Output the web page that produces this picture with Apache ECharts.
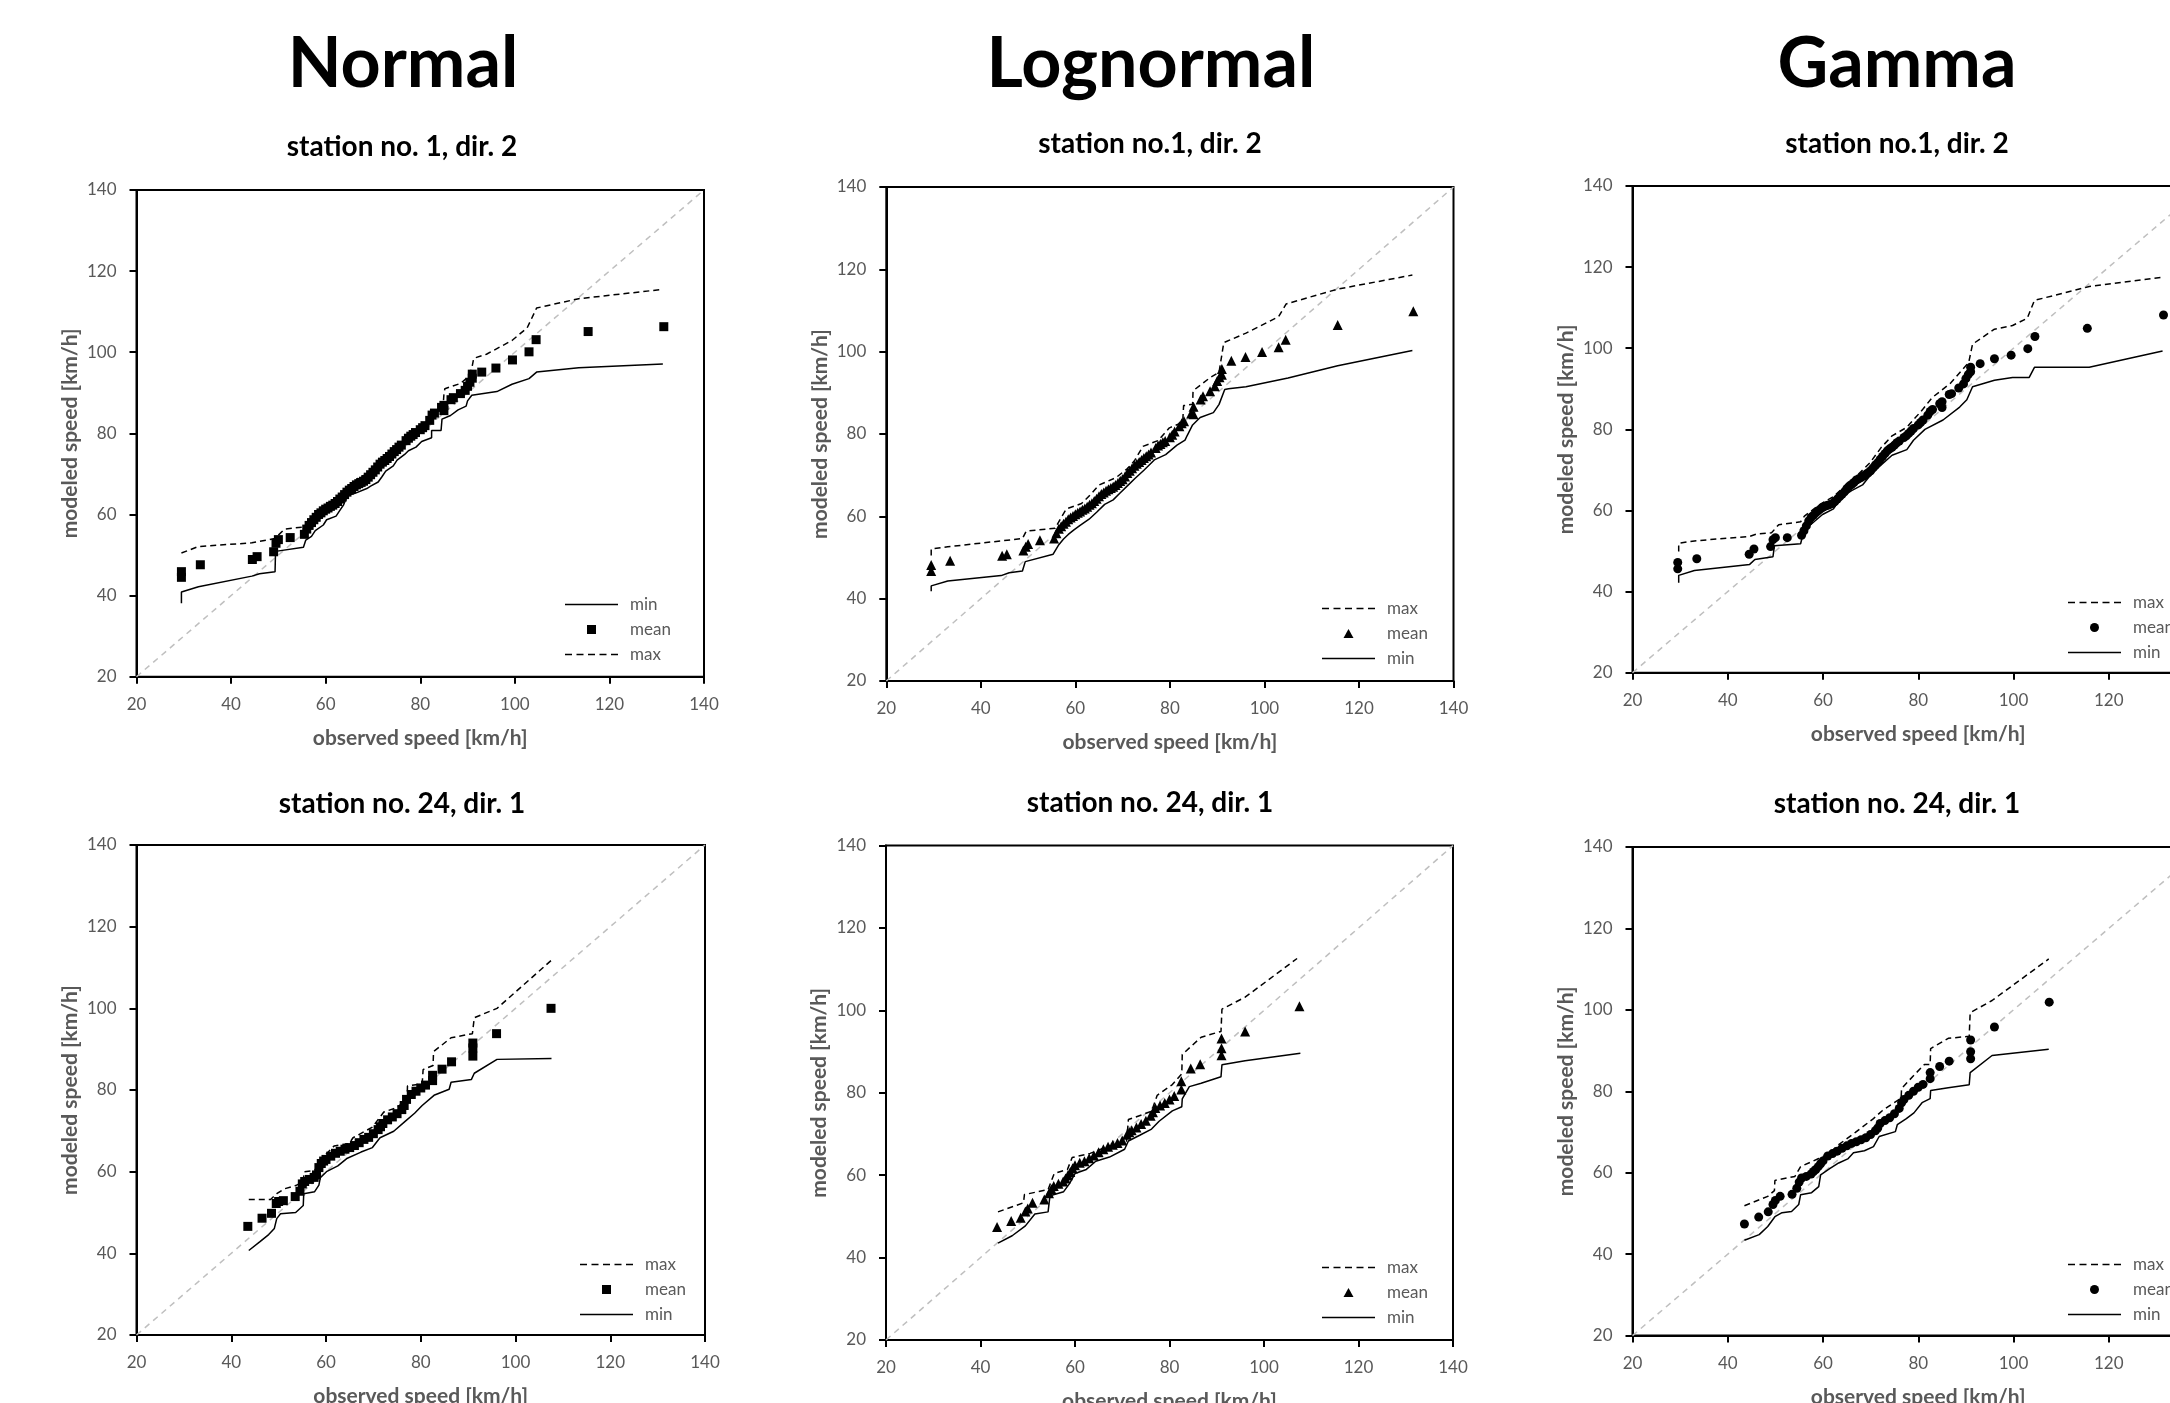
<!DOCTYPE html>
<html>
<head>
<meta charset="utf-8">
<script src="https://cdn.jsdelivr.net/npm/echarts@6/dist/echarts.min.js"></script>
<style>
html,body{margin:0;padding:0;background:#ffffff;}
#chart{width:2170px;height:1403px;}
</style>
</head>
<body>
<div id="chart"></div>
<script>
// ---------------- DATA ----------------
const distributionNames = ['Normal', 'Lognormal', 'Gamma'];
const panelTitles = ['station no. 1, dir. 2', 'station no.1, dir. 2', 'station no.1, dir. 2',
                     'station no. 24, dir. 1', 'station no. 24, dir. 1', 'station no. 24, dir. 1'];
const axisMin = 20, axisMax = 140, axisStep = 20;
const diagonalRange = [20, 140];

// observed speeds (x) per station
const obsStation1 = [29.5,29.5,33.5,44.5,45.5,49,49.5,50,52.5,55.5,
  56,56.5,57,57.5,58,58.5,59,59.5,60,60.5,
  61,61.5,62,62.5,63,63.5,64,64.5,65,65.5,
  66,66.5,67,67.5,68,68.5,69,69.5,70,70.5,
  71,71.5,72,72.5,73,73.5,74,74.5,75,75.5,
  76,77,77.5,78,78.5,79,80,80.5,81,82,
  82.5,83,84.5,85,85,86.5,87,88.5,89.5,90,
  90.5,91,91,93,96,99.5,103,104.5,115.5,131.5];
const obsStation24 = [43.5,46.5,48.5,49.5,50,51,53.5,54.5,55,55.5,
  56.5,57.5,58,58.5,59,59.5,60,61,62,63,
  64,65,66,67,68,69,70,71,71.5,72,
  73,74,75,76,76.5,77,78,79,80,81,
  82.5,82.5,84.5,86.5,91,91,91,96,107.5];

// modeled mean speeds
const normalMean1 = [45.9,44.5,47.6,48.9,49.6,50.8,52.9,53.8,54.3,55.1,
  56.4,57.3,58.0,58.7,59.3,60.0,60.4,60.9,61.3,61.6,
  62.0,62.3,62.7,63.2,63.8,64.3,64.9,65.5,66.0,66.4,
  66.9,67.3,67.6,67.9,68.2,68.6,69.2,69.8,70.4,71.0,
  71.7,72.4,72.9,73.3,73.8,74.3,74.9,75.5,76.0,76.6,
  77.1,78.2,78.8,79.3,79.7,80.2,80.9,81.4,81.9,83.2,
  84.5,85.0,86.4,86.9,85.6,88.3,88.8,89.8,90.6,91.6,
  92.6,93.6,94.6,95.1,96.1,98.1,100.1,103.1,105.1,106.3];
const lognormalMean1 = [48.2,46.7,49.2,50.4,50.8,51.7,52.6,53.3,54.2,54.6,
  55.9,57.0,57.6,58.2,58.7,59.3,59.7,60.1,60.5,60.9,
  61.2,61.6,61.9,62.3,62.8,63.2,63.7,64.3,64.9,65.4,
  65.8,66.2,66.6,66.9,67.2,67.6,68.1,68.6,69.0,69.7,
  70.5,71.1,71.7,72.3,72.8,73.2,73.7,74.2,74.6,75.0,
  75.5,76.6,77.2,77.6,78.0,78.3,79.2,79.8,80.6,81.9,
  82.6,83.1,85.0,86.6,84.8,88.4,89.2,90.4,91.6,92.9,
  93.8,94.4,95.8,97.8,98.7,99.9,101.1,102.9,106.5,109.8];
const gammaMean1 = [47.2,45.6,48.1,49.2,50.5,51.1,52.8,53.3,53.3,53.9,
  55.0,56.2,57.4,58.3,58.8,59.4,59.9,60.4,60.8,61.1,
  61.3,61.5,61.7,62.2,62.8,63.4,64.0,64.6,65.4,66.0,
  66.4,66.9,67.5,67.8,68.1,68.5,68.9,69.3,69.8,70.5,
  71.2,71.8,72.6,73.3,74.0,74.7,75.2,75.6,76.1,76.7,
  77.1,78.0,78.4,79.0,79.6,80.2,81.1,81.7,82.3,83.5,
  84.4,84.9,86.3,86.8,85.4,88.6,88.8,90.2,91.2,92.5,
  93.5,94.2,95.3,96.2,97.4,98.3,99.9,102.9,104.9,108.2];
const normalMean24 = [46.6,48.6,49.8,52.2,52.7,52.9,53.9,55.2,57.0,57.6,
  58.1,58.6,59.2,61.0,62.0,62.6,63.0,63.8,64.5,65.0,
  65.5,65.9,66.4,67.1,67.9,68.4,69.3,70.3,71.0,71.8,
  72.7,73.4,74.2,75.2,76.2,77.7,78.9,79.7,80.5,81.2,
  82.3,83.6,85.1,86.9,88.3,90.3,91.5,93.8,100.0];
const lognormalMean24 = [47.4,48.9,49.7,51.2,51.9,53.3,54.1,55.6,56.6,57.4,
  57.9,58.5,59.2,60.0,60.8,61.7,62.4,63.0,63.4,64.1,
  64.8,65.6,66.3,66.9,67.4,67.8,68.4,69.8,70.4,70.9,
  71.6,72.4,73.2,74.4,75.3,76.3,76.9,77.5,78.4,79.2,
  80.8,82.8,85.9,86.9,89.1,90.8,93.2,94.9,101.0];
const gammaMean24 = [47.4,49.1,50.4,52.2,53.2,54.2,54.7,56.2,57.7,58.7,
  59.1,59.7,60.3,60.8,61.5,62.2,62.9,64.1,64.7,65.3,
  66.0,66.6,67.2,67.6,68.1,68.6,69.4,70.3,71.0,72.1,
  72.8,73.5,74.5,75.8,77.2,78.0,79.0,80.0,81.0,81.7,
  83.1,84.6,86.1,87.4,88.0,89.7,92.6,95.8,101.9];

// min / max envelopes [observed, modeled]
const normalMin1 = [[29.5,38.1],[29.5,40.9],[33.1,42.2],[44.4,44.8],[46,45.4],[49.3,45.9],[49.4,50.9],[55.3,51.9],[55.8,53.7],[57,54.6],[57.8,56],[59.5,57.4],[60.2,58.7],[62.2,59.6],[63,61],[63.8,62.4],[64.6,64.7],[66.2,65.2],[68.7,66.4],[69.5,67],[71.1,68],[71.9,69.3],[72.7,70.7],[74.3,72],[75.1,73.4],[76.7,74.8],[77.5,75.7],[79.1,76.6],[80.3,78],[82.4,78.9],[82.4,80.7],[84.4,80.7],[84.6,83.5],[86.4,84.4],[88,85.8],[89.7,86.7],[90,88],[90.9,89.4],[96.2,90.3],[99.4,92.1],[103,93.5],[104.6,95.1],[113.5,96.2],[131.3,97.1]];
const normalMax1 = [[29.5,50.5],[33.1,52.1],[44.4,53],[49.3,54.1],[51.3,56.4],[55.3,56.9],[56.1,57.8],[56.5,59.2],[58.5,60],[60.2,61.9],[62.2,62.8],[63,64.5],[64.2,65.6],[66.2,66.5],[66.6,68.8],[69.1,70.2],[71.5,72.9],[72.3,74.2],[73.9,75.2],[75.5,77],[77.5,77.5],[77.8,80],[79.6,81.2],[80.6,82.6],[82.4,83.5],[83.6,85.5],[84.8,86.2],[85,89.5],[85.2,91],[88.5,92.3],[90.2,94],[90.9,96],[91.3,98.5],[94,99.5],[99.4,102.9],[102.6,106],[104.6,110.9],[113.5,113.2],[131.3,115.5]];
const lognormalMin1 = [[29.5,41.8],[29.5,43.1],[33,44.3],[44.3,45.6],[46,46.3],[48.8,46.7],[49.4,49],[55.3,50.8],[56.5,53.1],[57.5,54.5],[58.5,55.6],[59.7,56.7],[61,57.8],[62.9,59.3],[64.5,61],[66.2,62.9],[68,64],[69.4,65.6],[71,67.4],[72.6,69.2],[74.5,71.2],[76.7,73.7],[79.1,75],[81.5,77.3],[83.2,78.5],[83.6,79.5],[84.8,82.2],[86.4,84],[89.2,85.2],[90.4,87.2],[91.6,90.8],[92.4,91],[96.1,91.5],[105,93.6],[115.5,96.6],[131.3,100.3]];
const lognormalMax1 = [[29.5,50.5],[29.5,52.1],[33,52.6],[48.8,54.6],[49.6,56.4],[55.7,57.1],[56.9,59.5],[58.1,61.8],[61.3,63.1],[63.3,65.4],[65,67.6],[68.6,69.4],[71,71.6],[72.5,73.5],[74.3,77],[77.5,78.4],[79.9,81.5],[82.7,82.8],[82.9,86.9],[84.8,87.2],[84.9,90.5],[88.4,93.6],[90.4,95],[91.4,102.2],[96.1,104.5],[103,108.5],[104.6,111.6],[115.5,115.2],[131.3,118.6]];
const gammaMin1 = [[29.7,42.2],[29.7,44],[33,45.2],[44.6,46.7],[45.7,47.9],[49.5,48.6],[49.8,51.3],[55.3,51.8],[55.6,53.2],[57.2,56.3],[59.9,59],[62.2,60.4],[63.7,63.1],[66,64.9],[68.3,66.3],[69.9,68.6],[71.8,70.8],[74.5,73.6],[77.6,75],[79,77.3],[81.4,80],[85.2,82.3],[88.7,85.5],[90.2,87.3],[91.4,90.5],[96,92.1],[99.8,92.8],[103.3,92.8],[104.4,95.3],[115.9,95.3],[131.3,99.3]];
const gammaMax1 = [[29.7,49.9],[29.7,51.9],[33,52.5],[44.6,53.6],[46.1,54.2],[49.2,54.5],[50.7,56.5],[55.3,57.2],[56.1,58.6],[59.1,61.3],[62.2,63.4],[64.5,65.9],[66.8,68.2],[69.9,71.8],[72.2,75.5],[74.5,78.4],[77.6,80.5],[81,85],[82.9,87.8],[86.8,91.4],[89.1,94.5],[90.6,96.5],[91.4,101],[96,104.7],[99.8,105.6],[102.9,107.4],[104.4,111.8],[115.9,115.2],[131.3,117.5]];
const normalMin24 = [[43.7,40.7],[46,42.8],[47.9,44.6],[49.1,46.1],[49.6,48.5],[50.4,49.7],[53.6,50],[55.2,51.7],[55.3,54.6],[57.6,55.1],[58.5,56.7],[58.8,58.5],[60.1,60],[62.5,61.4],[64.5,63.3],[67.4,64.8],[69.8,65.9],[71.4,68.3],[74.3,69.9],[76.7,72.3],[78.7,74.3],[80.3,76.2],[82.8,78.7],[86,80.2],[86.4,81.9],[90.7,82.6],[91.3,84.1],[96.1,87.5],[107.6,87.7]];
const normalMax24 = [[43.7,53.2],[48.3,53.2],[49.6,54.6],[51.2,55.8],[53.6,56.6],[55.2,57.5],[55.4,60],[57.6,60.3],[59.3,63.4],[61.7,66.3],[64.9,66.9],[65.7,68.3],[69.8,70.9],[72.2,74.6],[74.7,75.6],[77.1,77.5],[77.2,81],[80.3,81.5],[80.5,85],[82.6,86],[82.7,89.4],[86.4,92.8],[90.9,93.8],[91.3,97.7],[96.1,100],[107.6,111.8]];
const lognormalMin24 = [[43.7,43.5],[46.7,45.3],[49.5,47.7],[51.5,50.6],[54.3,51.1],[54.7,55],[57.6,56],[58.8,57.9],[60,60.4],[62.4,61.4],[64.4,63.4],[67.3,64.4],[70.5,66.3],[71.3,68.3],[73.7,69.7],[76.2,71.2],[77.8,73.1],[80.6,75.6],[82.6,76.6],[82.7,78.5],[84.2,81.5],[86.7,82.3],[90.9,83.9],[91.1,86.8],[96,87.8],[107.7,89.6]];
const lognormalMax24 = [[43.7,51.1],[49.1,53.3],[49.3,55.3],[54.3,56.5],[55.6,60.4],[58.4,61.4],[59.4,64.3],[63.2,65.3],[66.5,66.8],[70.9,68.2],[71.1,70.6],[71.3,73.5],[76.2,75.5],[77.4,79.4],[80.6,82],[82.6,84.6],[82.7,89.3],[86.7,93.5],[90.9,94.9],[91.1,100.3],[96,103.2],[107,112.6]];
const gammaMin24 = [[43.5,43.4],[46.6,44.8],[48.4,46.8],[49.9,49.2],[51.4,50.2],[53.4,50.5],[54.9,52.2],[55.3,54.6],[57.6,55.1],[59.1,56.6],[59.5,59.5],[61.4,61],[63.3,62.4],[65.2,63.4],[66.4,64.9],[68.7,65.4],[70.6,66.4],[71.8,68.9],[75.2,70.1],[75.6,71.8],[77.5,73.3],[79.1,74.7],[80.8,77.2],[82.5,78.2],[82.6,80.2],[86.3,80.9],[90.7,81.6],[90.9,84.6],[95.5,88.8],[107.4,90.3]];
const gammaMax24 = [[43.5,51.9],[48.4,54.2],[49.8,55.6],[49.9,58.1],[54.1,59.1],[55.3,61.5],[59.1,63.5],[61,64.5],[63.3,66.9],[66.8,69.9],[67.9,70.9],[70.6,73.3],[72.5,75.3],[74.4,76.8],[76.4,78.3],[76.5,80.7],[78.9,83.7],[81.3,86.6],[82.5,86.6],[82.6,90.5],[86.3,93],[90.7,93.5],[90.9,99.3],[95.5,102.3],[107.4,112.5]];

// ---------------- LAYOUT / STYLE ----------------
const gridBoxes = [
  [136.5, 190, 567.5, 486.7],
  [886.3, 187, 567.2, 494],
  [1632.5, 186, 571.5, 486.7],
  [136.5, 845, 568.5, 490],
  [886, 845.6, 567, 494.4],
  [1632.5, 847, 571.5, 488.6]
];
const legendBoxes = [[565, 596], [1322, 600], [2068, 594], [580, 1256], [1322, 1259], [2068, 1256]];
const legendOrders = [['min','mean','max'], ['max','mean','min'], ['max','mean','min'],
                      ['max','mean','min'], ['max','mean','min'], ['max','mean','min']];
const bigTitlePos = [[403, 64], [1151, 64], [1897, 64]];
const panelTitlePos = [[402, 147], [1150, 144], [1897, 144], [402, 804], [1150, 803], [1897, 804]];
const meanSymbols = ['rect', 'triangle', 'circle'];
const meanSymbolSizes = [9, 10, 9];
const meanLegendIcons = ['path://M0,0h9v9h-9z', 'path://M5,0L10,9H0z', 'circle'];
const FONT = 'Lato, "Open Sans", "Noto Sans", sans-serif';
const GRAY = '#595959';
const solidIcon = 'path://M0,0h53v1.5h-53z';
const dashIcon = 'path://M0,0h7v1.5h-7zM11.5,0h7v1.5h-7zM23,0h7v1.5h-7zM34.5,0h7v1.5h-7zM46,0h7v1.5h-7z';

const obsByPanel = [obsStation1, obsStation1, obsStation1, obsStation24, obsStation24, obsStation24];
const meanByPanel = [normalMean1, lognormalMean1, gammaMean1, normalMean24, lognormalMean24, gammaMean24];
const minByPanel = [normalMin1, lognormalMin1, gammaMin1, normalMin24, lognormalMin24, gammaMin24];
const maxByPanel = [normalMax1, lognormalMax1, gammaMax1, normalMax24, lognormalMax24, gammaMax24];

const grids = [], xAxes = [], yAxes = [], series = [], legends = [], titles = [];

distributionNames.forEach((name, d) => {
  titles.push({
    text: name, left: bigTitlePos[d][0], top: bigTitlePos[d][1], padding: 0,
    textAlign: 'center', textVerticalAlign: 'middle',
    textStyle: {fontFamily: FONT, fontWeight: 'bold', fontSize: 70, color: '#000'}
  });
});

for (let i = 0; i < 6; i++) {
  const d = i % 3;
  const b = gridBoxes[i];
  grids.push({left: b[0], top: b[1], width: b[2], height: b[3], containLabel: false,
    outerBoundsMode: 'none',
    show: true, borderColor: '#000', borderWidth: 2, backgroundColor: 'transparent'});
  titles.push({
    text: panelTitles[i], left: panelTitlePos[i][0], top: panelTitlePos[i][1], padding: 0,
    textAlign: 'center', textVerticalAlign: 'middle',
    textStyle: {fontFamily: FONT, fontWeight: 'bold', fontSize: 28, color: '#000'}
  });
  const common = {
    type: 'value', gridIndex: i, min: axisMin, max: axisMax, interval: axisStep,
    splitLine: {show: false},
    axisLine: {show: true, onZero: false, lineStyle: {color: '#000', width: 2}},
    axisTick: {show: true, inside: false, length: 7, lineStyle: {color: '#000', width: 2}},
    nameLocation: 'middle',
    nameTextStyle: {fontFamily: FONT, fontWeight: 'bold', fontSize: 21, color: GRAY}
  };
  xAxes.push(Object.assign({}, common, {
    position: 'bottom', name: 'observed speed [km/h]', nameGap: 51,
    axisLabel: {fontFamily: FONT, fontSize: 17, color: GRAY, margin: 19}
  }));
  yAxes.push(Object.assign({}, common, {
    position: 'left', name: 'modeled speed [km/h]', nameGap: 56,
    axisLabel: {fontFamily: FONT, fontSize: 17, color: GRAY, margin: 20}
  }));

  series.push({
    type: 'line', name: 'diag' + i, xAxisIndex: i, yAxisIndex: i, silent: true, z: 1,
    data: [[diagonalRange[0], diagonalRange[0]], [diagonalRange[1], diagonalRange[1]]],
    symbol: 'none', lineStyle: {color: '#BFBFBF', width: 1.5, type: [6, 5]}
  });
  series.push({
    type: 'line', name: 'p' + i + '-min', xAxisIndex: i, yAxisIndex: i, z: 2,
    data: minByPanel[i], symbol: 'none', color: '#000',
    lineStyle: {color: '#000', width: 1.5, type: 'solid'}
  });
  series.push({
    type: 'line', name: 'p' + i + '-max', xAxisIndex: i, yAxisIndex: i, z: 2,
    data: maxByPanel[i], symbol: 'none', color: '#000',
    lineStyle: {color: '#000', width: 1.5, type: [6, 4]}
  });
  const obs = obsByPanel[i], mean = meanByPanel[i];
  series.push({
    type: 'scatter', name: 'p' + i + '-mean', xAxisIndex: i, yAxisIndex: i, z: 3,
    data: obs.map((x, k) => [x, mean[k]]),
    symbol: meanSymbols[d], symbolSize: meanSymbolSizes[d],
    itemStyle: {color: '#000', opacity: 1}
  });

  legends.push({
    orient: 'vertical', left: legendBoxes[i][0], top: legendBoxes[i][1], padding: 0,
    itemWidth: 53, itemHeight: 9, itemGap: 8, selectedMode: false, symbolKeepAspect: true,
    itemStyle: {borderWidth: 0},
    textStyle: {fontFamily: FONT, fontSize: 17, color: GRAY, padding: [0, 0, 0, 7]},
    formatter: n => n.split('-')[1],
    data: legendOrders[i].map(k => {
      const item = {name: 'p' + i + '-' + k, itemStyle: {color: '#000', borderWidth: 0}};
      if (k === 'min') item.icon = solidIcon;
      if (k === 'max') item.icon = dashIcon;
      if (k === 'mean') item.icon = meanLegendIcons[d];
      return item;
    })
  });
}

const chart = echarts.init(document.getElementById('chart'), null, {renderer: 'canvas'});
chart.setOption({
  animation: false,
  backgroundColor: '#ffffff',
  textStyle: {fontFamily: FONT},
  title: titles,
  grid: grids,
  xAxis: xAxes,
  yAxis: yAxes,
  legend: legends,
  series: series
});
</script>
</body>
</html>
